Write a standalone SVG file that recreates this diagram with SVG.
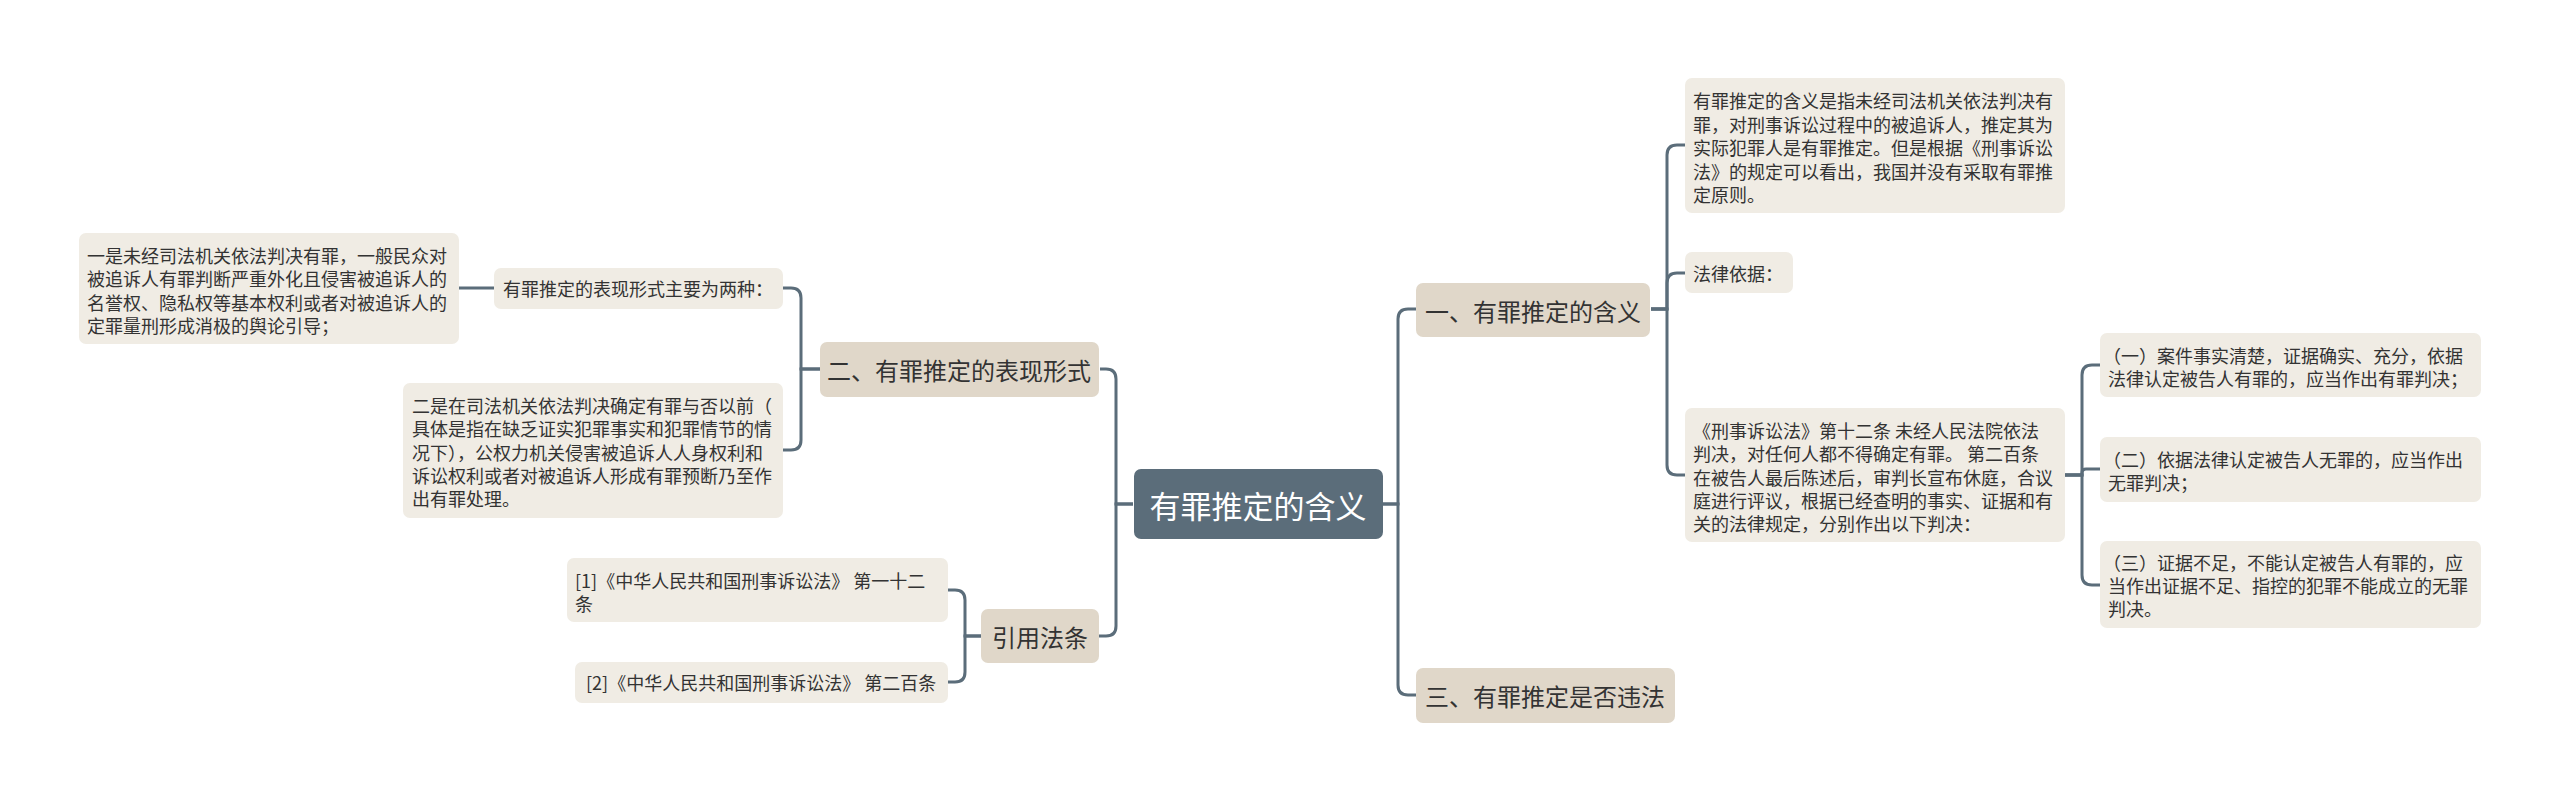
<svg xmlns="http://www.w3.org/2000/svg" width="2560" height="801" viewBox="0 0 2560 801">
<style>
.root{fill:#5b6d7a}
.l1{fill:#e0d7c9}
.l2{fill:#f0ece4}
text{font-family:"Noto Sans CJK SC","Noto Sans",sans-serif;dominant-baseline:central;fill:#333}
.tr{font-size:31px;fill:#fff;text-anchor:middle}
.t1{font-size:24px;text-anchor:middle}
.t2{font-size:18px}
.c{fill:none;stroke:#5b6d7a;stroke-width:3}
</style>
<rect width="2560" height="801" fill="#fff"/>
<g id="connectors">
<path class="c" d="M1383,504 H1398 V319 Q1398,309 1408,309 H1416"/>
<path class="c" d="M1383,504 H1398 V685 Q1398,695 1408,695 H1416"/>
<path class="c" d="M1133,504 H1116 V379 Q1116,369 1106,369 H1100"/>
<path class="c" d="M1133,504 H1116 V626 Q1116,636 1106,636 H1099"/>
<path class="c" d="M1651,309 H1667 V155 Q1667,145 1677,145 H1685"/>
<path class="c" d="M1651,309 H1667 V283 Q1667,273 1677,273 H1685"/>
<path class="c" d="M1651,309 H1667 V465 Q1667,475 1677,475 H1685"/>
<path class="c" d="M2065,475 H2082 V375 Q2082,365 2092,365 H2100"/>
<path class="c" d="M2065,475 H2082 V473 Q2082,469 2086,469 H2100"/>
<path class="c" d="M2065,475 H2082 V575 Q2082,585 2092,585 H2100"/>
<path class="c" d="M820,369 H801 V298 Q801,288 791,288 H783"/>
<path class="c" d="M820,369 H801 V440 Q801,450 791,450 H783"/>
<path class="c" d="M494,288 H459"/>
<path class="c" d="M981,636 H965 V600 Q965,590 955,590 H948"/>
<path class="c" d="M981,636 H965 V672 Q965,682 955,682 H948"/>
</g>
<g id="root">
<rect class="root" x="1134" y="469" width="249" height="70" rx="7"/>
<text class="tr" x="1258" y="504">有罪推定的含义</text>
</g>
<g id="n1">
<rect class="l1" x="1416" y="283" width="234" height="54" rx="7"/>
<text class="t1" x="1533" y="310">一、有罪推定的含义</text>
</g>
<g id="n2">
<rect class="l1" x="820" y="342" width="279" height="55" rx="7"/>
<text class="t1" x="959" y="369">二、有罪推定的表现形式</text>
</g>
<g id="n3">
<rect class="l1" x="1416" y="668" width="259" height="55" rx="7"/>
<text class="t1" x="1545" y="695">三、有罪推定是否违法</text>
</g>
<g id="n4">
<rect class="l1" x="981" y="609" width="118" height="54" rx="7"/>
<text class="t1" x="1040" y="636">引用法条</text>
</g>
<g id="n1a">
<rect class="l2" x="1685" y="78" width="380" height="135" rx="7"/>
<text class="t2" x="1693"><tspan x="1693" y="100">有罪推定的含义是指未经司法机关依法判决有</tspan><tspan x="1693" y="124">罪，对刑事诉讼过程中的被追诉人，推定其为</tspan><tspan x="1693" y="147">实际犯罪人是有罪推定。但是根据《刑事诉讼</tspan><tspan x="1693" y="171">法》的规定可以看出，我国并没有采取有罪推</tspan><tspan x="1693" y="194">定原则。</tspan></text>
</g>
<g id="n1b">
<rect class="l2" x="1685" y="252" width="108" height="41" rx="7"/>
<text class="t2" x="1693" y="273">法律依据：</text>
</g>
<g id="n1c">
<rect class="l2" x="1685" y="408" width="380" height="134" rx="7"/>
<text class="t2"><tspan x="1693" y="430">《刑事诉讼法》第十二条 未经人民法院依法</tspan><tspan x="1693" y="453">判决，对任何人都不得确定有罪。 第二百条</tspan><tspan x="1693" y="477">在被告人最后陈述后，审判长宣布休庭，合议</tspan><tspan x="1693" y="500">庭进行评议，根据已经查明的事实、证据和有</tspan><tspan x="1693" y="523">关的法律规定，分别作出以下判决：</tspan></text>
</g>
<g id="n1c1">
<rect class="l2" x="2100" y="333" width="381" height="64" rx="7"/>
<text class="t2"><tspan x="2103" y="355">（一）案件事实清楚，证据确实、充分，依据</tspan><tspan x="2108" y="378">法律认定被告人有罪的，应当作出有罪判决；</tspan></text>
</g>
<g id="n1c2">
<rect class="l2" x="2100" y="437" width="381" height="65" rx="7"/>
<text class="t2"><tspan x="2103" y="459">（二）依据法律认定被告人无罪的，应当作出</tspan><tspan x="2108" y="482">无罪判决；</tspan></text>
</g>
<g id="n1c3">
<rect class="l2" x="2100" y="541" width="381" height="87" rx="7"/>
<text class="t2"><tspan x="2103" y="562">（三）证据不足，不能认定被告人有罪的，应</tspan><tspan x="2108" y="585">当作出证据不足、指控的犯罪不能成立的无罪</tspan><tspan x="2108" y="608">判决。</tspan></text>
</g>
<g id="n2a">
<rect class="l2" x="494" y="268" width="289" height="41" rx="7"/>
<text class="t2" x="503" y="288">有罪推定的表现形式主要为两种：</text>
</g>
<g id="n2a1">
<rect class="l2" x="79" y="233" width="380" height="111" rx="7"/>
<text class="t2"><tspan x="87" y="255">一是未经司法机关依法判决有罪，一般民众对</tspan><tspan x="87" y="278">被追诉人有罪判断严重外化且侵害被追诉人的</tspan><tspan x="87" y="302">名誉权、隐私权等基本权利或者对被追诉人的</tspan><tspan x="87" y="325">定罪量刑形成消极的舆论引导；</tspan></text>
</g>
<g id="n2b">
<rect class="l2" x="403" y="383" width="380" height="135" rx="7"/>
<text class="t2"><tspan x="412" y="405">二是在司法机关依法判决确定有罪与否以前（</tspan><tspan x="412" y="428">具体是指在缺乏证实犯罪事实和犯罪情节的情</tspan><tspan x="412" y="452">况下），公权力机关侵害被追诉人人身权利和</tspan><tspan x="412" y="475">诉讼权利或者对被追诉人形成有罪预断乃至作</tspan><tspan x="412" y="498">出有罪处理。</tspan></text>
</g>
<g id="n4a">
<rect class="l2" x="567" y="558" width="381" height="64" rx="7"/>
<text class="t2"><tspan x="575" y="580">[1]《中华人民共和国刑事诉讼法》 第一十二</tspan><tspan x="575" y="603">条</tspan></text>
</g>
<g id="n4b">
<rect class="l2" x="575" y="662" width="373" height="41" rx="7"/>
<text class="t2" x="586" y="682">[2]《中华人民共和国刑事诉讼法》 第二百条</text>
</g>
</svg>
